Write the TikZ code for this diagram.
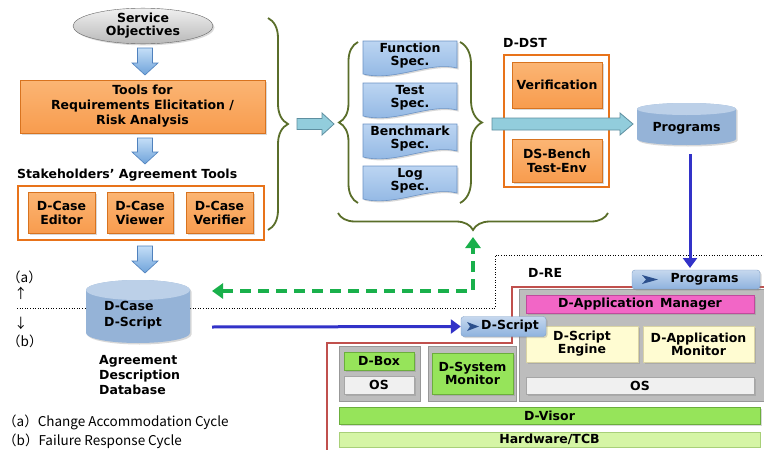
\documentclass[tikz,border=0pt]{standalone}
\usepackage{fontspec}
\setmainfont{DejaVu Sans}
\newfontfamily\cjk{Noto Sans CJK JP}
\usetikzlibrary{shapes.geometric,decorations.pathreplacing,arrows.meta,shadows,calc}
\definecolor{orangeF}{HTML}{F89C4E}
\definecolor{orangeT}{HTML}{FBB574}
\definecolor{orangeD}{HTML}{D8731F}
\definecolor{orangeG}{HTML}{E8731A}
\definecolor{specT}{HTML}{BCD5F2}
\definecolor{specB}{HTML}{8DB4E2}
\definecolor{specD}{HTML}{6C93C4}
\definecolor{cylB}{HTML}{95B3D7}
\definecolor{cylT}{HTML}{BCD0E8}
\definecolor{harrF}{HTML}{92CDDC}
\definecolor{harrD}{HTML}{5E8FA0}
\definecolor{darrT}{HTML}{C4DEF7}
\definecolor{darrB}{HTML}{6FA3DA}
\definecolor{darrD}{HTML}{4F81BD}
\definecolor{blueL}{HTML}{3232C8}
\definecolor{greenL}{HTML}{19B04B}
\definecolor{oliveB}{HTML}{5A6E2A}
\definecolor{redL}{HTML}{C0504D}
\definecolor{panelF}{HTML}{BDBDBD}
\definecolor{panelD}{HTML}{989898}
\definecolor{greenF}{HTML}{96E45A}
\definecolor{greenD}{HTML}{6BAE3C}
\definecolor{lgreenF}{HTML}{D5F5A5}
\definecolor{lgreenD}{HTML}{A8D078}
\definecolor{pinkF}{HTML}{F266C6}
\definecolor{pinkD}{HTML}{C04A9C}
\definecolor{yelF}{HTML}{FFFCD2}
\definecolor{yelD}{HTML}{D9D3A4}
\definecolor{osF}{HTML}{F0F0F0}
\definecolor{osD}{HTML}{A6A6A6}
\definecolor{progT}{HTML}{C6D8EE}
\definecolor{progB}{HTML}{8EB2DE}
\definecolor{progD}{HTML}{7F9FC8}
\definecolor{iconB}{HTML}{2B4F8C}
\begin{document}
\begin{tikzpicture}[x=1pt,y=-1pt,
  every node/.style={font=\bfseries\fontsize{12.5}{15}\selectfont, inner sep=0pt, align=center},
  shad/.style={drop shadow={opacity=.3,shadow xshift=1.5pt,shadow yshift=-1.5pt}},
  obox/.style={draw=orangeD, top color=orangeT, bottom color=orangeF, shad},
  ogroup/.style={draw=orangeG, line width=2pt},
  brc/.style={draw=oliveB, line width=1.8pt, decorate, decoration={brace, amplitude=#1}},
  varrow/.style={draw=darrD, line width=.6pt, top color=darrT, bottom color=darrB},
  harrow/.style={draw=harrD, line width=.8pt, fill=harrF},
  spec/.style={draw=specD, line width=.6pt, top color=specT, bottom color=specB, shad},
  gpanel/.style={draw=panelD, fill=panelF, line width=.8pt},
  gbox/.style={draw=greenD, fill=greenF, shad},
  lgbox/.style={draw=lgreenD, fill=lgreenF},
  pbox/.style={draw=pinkD, fill=pinkF, shad},
  ybox/.style={draw=yelD, fill=yelF, shad},
  osbox/.style={draw=osD, fill=osF, shad},
  progbox/.style={draw=progD, top color=progT, bottom color=progB, rounded corners=3pt, shad},
  legend/.style={font=\cjk\fontsize{13.5}{15}\selectfont, anchor=west},
  lbl/.style={anchor=west}
]
\useasboundingbox (0,0) rectangle (764,450);
\fill[white] (0,0) rectangle (764,450);

% ---------- left column ----------
\node[ellipse, draw=gray!80!black, top color=gray!12, bottom color=gray!55, minimum width=140pt, minimum height=30pt, shad] (svc) at (143,26) {Service\\[-2pt]Objectives};
\node[obox, minimum width=245pt, minimum height=53pt] (tools) at (142.5,106.5) {Tools for\\Requirements Elicitation /\\Risk Analysis};

\path[varrow] (137.5,48) -- (152.5,48) -- (152.5,63) -- (158,63) -- (145,75) -- (132,63) -- (137.5,63) -- cycle;
\path[varrow] (137.5,138) -- (152.5,138) -- (152.5,152) -- (158,152) -- (145,164) -- (132,152) -- (137.5,152) -- cycle;

\node[lbl] (sat) at (17,175) {Stakeholders’ Agreement Tools};
\node[ogroup, minimum width=246pt, minimum height=54pt] (satbox) at (141,213) {};
\node[obox, minimum width=67pt, minimum height=41pt] (ed) at (61.5,212.5) {D-Case\\[-1pt]Editor};
\node[obox, minimum width=66pt, minimum height=41pt] (vw) at (140,212.5) {D-Case\\[-1pt]Viewer};
\node[obox, minimum width=67pt, minimum height=41pt] (vf) at (219.5,212.5) {D-Case\\[-1pt]Verifier};

\path[varrow] (137.5,246) -- (152.5,246) -- (152.5,261) -- (158,261) -- (145,273) -- (132,261) -- (137.5,261) -- cycle;

% big brace
\draw[brc=20pt] (268,18) -- (268,230);
\path[harrow] (297,118.5) -- (322,118.5) -- (322,113) -- (334,124) -- (322,135) -- (322,129.5) -- (297,129.5) -- cycle;

% ---------- specs ----------
\newcommand\specdoc[6]{%
  \path[spec] (#2,#3) -- (#4,#3) -- (#4,#5-8) .. controls ({#4-28},#5-15) and ({#2+32},#5+6) .. (#2,#5-2) -- cycle;
  \node (#1) at ({(#2+#4)/2},{(#3+#5)/2-3}) {#6};}
\specdoc{fspec}{363}{41}{457}{76}{Function\\[-2pt]Spec.}
\specdoc{tspec}{363}{83}{457}{118}{Test\\[-2pt]Spec.}
\specdoc{bspec}{363}{124}{457}{159}{Benchmark\\[-2pt]Spec.}
\specdoc{lspec}{363}{166}{457}{201}{Log\\[-2pt]Spec.}
\draw[brc=19pt] (358,203) -- (358,42);
\draw[brc=22pt] (460,42) -- (460,203);
\draw[brc=17pt] (608,213) -- (338,213);

% ---------- D-DST ----------
\node[lbl] (ddst) at (503,43) {D-DST};
\node[ogroup, minimum width=105pt, minimum height=132pt] (dstbox) at (556.5,121) {};
\node[obox, minimum width=90pt, minimum height=46pt] (verif) at (557,85) {Verification};
\node[obox, minimum width=90pt, minimum height=43pt] (bench) at (557,160.5) {DS-Bench\\[-1pt]Test-Env};
\path[harrow] (492,118) -- (620,118) -- (620,113) -- (633,124) -- (620,135) -- (620,130) -- (492,130) -- cycle;

% Programs cylinder
\fill[cylB, shad] (637,109) -- (637,139) arc[start angle=180,end angle=360,x radius=49.5pt,y radius=6pt] -- (736,109) arc[start angle=0,end angle=180,x radius=49.5pt,y radius=6pt] -- cycle;
\fill[cylT] (686.5,109) ellipse[x radius=49.5pt,y radius=6pt];
\node (progs) at (686.5,128) {Programs};

% ---------- D-Case DB ----------
\draw[dotted, line width=.6pt] (17,308) -- (85,308);
\draw[dotted, line width=.6pt] (190,308) -- (495,308) -- (495,255) -- (764,255);
\fill[cylB, shad] (86,290) -- (86,333) arc[start angle=180,end angle=360,x radius=52pt,y radius=10pt] -- (190,290) arc[start angle=0,end angle=180,x radius=52pt,y radius=10pt] -- cycle;
\fill[cylT] (138,290) ellipse[x radius=52pt,y radius=10pt];
\node[anchor=west, align=left] (dcase) at (104,315) {D-Case\\[1pt]D-Script};
\node[anchor=west, align=left] (adb) at (99,375) {Agreement\\Description\\Database};

\node[legend] (la) at (7,277) {（a）};
\node[legend] (up) at (14,293) {↑};
\node[legend] (dn) at (14,323) {↓};
\node[legend] (lb) at (7,341) {（b）};
\node[legend] (leg1) at (3,422) {（a）Change Accommodation Cycle};
\node[legend] (leg2) at (3,441) {（b）Failure Response Cycle};

% ---------- D-RE ----------
\draw[redL, line width=1.5pt] (327,450) -- (327,343) -- (512,343) -- (512,287) -- (764,287);
\node[lbl] (dre) at (528,273) {D-RE};

\node[gpanel, minimum width=81pt, minimum height=55pt] (p1) at (379.5,373.5) {};
\node[gpanel, minimum width=88pt, minimum height=55pt] (p2) at (472,373.5) {};
\node[gpanel, minimum width=245pt, minimum height=112pt] (p3) at (641.5,345) {};

\node[pbox, minimum width=228pt, minimum height=18pt] (dam) at (640,304) {D-Application\, Manager};
\node[ybox, minimum width=112pt, minimum height=36pt] (dse) at (582,344) {D-Script\\[-2pt]Engine};
\node[ybox, minimum width=111pt, minimum height=36pt] (damon) at (698.5,344) {D-Application\\[-2pt]Monitor};
\node[osbox, minimum width=228pt, minimum height=17pt] (os3) at (640,385.5) {OS};
\node[gbox, minimum width=70pt, minimum height=18pt] (dbox) at (379,361) {D-Box};
\node[osbox, minimum width=70pt, minimum height=18pt] (os1) at (379,385) {OS};
\node[gbox, minimum width=81pt, minimum height=41pt] (dsm) at (472.5,373.5) {D-System\\[-2pt]Monitor};
\node[gbox, minimum width=421pt, minimum height=17pt] (dvisor) at (549.5,415.5) {D-Visor};
\node[lgbox, minimum width=421pt, minimum height=15pt] (hw) at (549.5,439.5) {Hardware/TCB};

% Programs box (D-RE)
\node[progbox, minimum width=128pt, minimum height=19pt] (progre) at (696,279.5) {};
\node (progretxt) at (704.5,279.5) {Programs};
\fill[iconB] (642,275) -- (658,279.5) -- (642,284) -- (646,279.5) -- cycle;
% D-Script box
\node[progbox, minimum width=85pt, minimum height=20pt] (dscr) at (503.5,326.5) {};
\node (dscrtxt) at (510,326.5) {D-Script};
\fill[iconB] (467,322) -- (479,326.5) -- (467,331) -- (470,326.5) -- cycle;

% ---------- connectors ----------
\draw[blueL, line width=3pt, -{Triangle[length=10pt,width=14pt]}] (progs.south -| 690,0) ++(0,20) coordinate (pa) -- (690,268);
\draw[blueL, line width=3pt, -{Triangle[length=10pt,width=14pt]}] (212,327) -- (dscr.west);
\draw[greenL, line width=3.5pt, dash pattern=on 11pt off 7pt, {Triangle[length=11pt,width=15pt]}-{Triangle[length=11pt,width=15pt]}] (212,291) -- (473,291) -- (473,237);
\end{tikzpicture}
\end{document}
